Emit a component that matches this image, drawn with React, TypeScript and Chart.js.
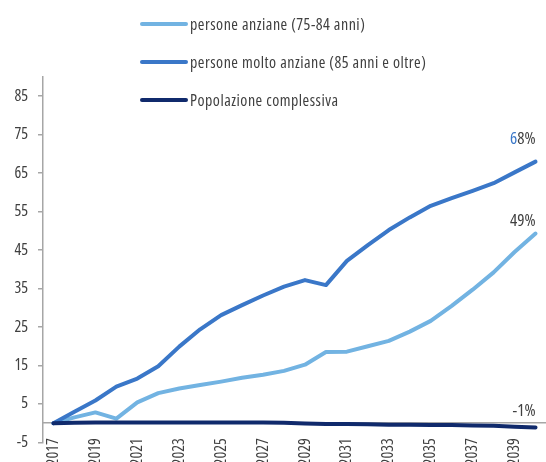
import React, { useEffect, useRef } from 'react';
import { Chart, registerables } from 'chart.js';

Chart.register(...registerables);

// ---- data ----
const years = [
  '2017', '2018', '2019', '2020', '2021', '2022', '2023', '2024', '2025', '2026', '2027', '2028',
  '2029', '2030', '2031', '2032', '2033', '2034', '2035', '2036', '2037', '2038', '2039', '2040',
];
const shownYearLabels = ['2017', '2019', '2021', '2023', '2025', '2027', '2029', '2031', '2033', '2035', '2037', '2039'];
const yTickValues = [-5, 5, 15, 25, 35, 45, 55, 65, 75, 85];

const seriesNames = [
  'persone anziane (75-84 anni)',
  'persone molto anziane (85 anni e oltre)',
  'Popolazione complessiva',
];
const anziani = [0, 1.5, 2.8, 1.2, 5.4, 7.8, 9.0, 9.9, 10.8, 11.8, 12.6, 13.6, 15.2, 18.5, 18.6, 20.0, 21.4, 23.8, 26.6, 30.5, 34.7, 39.2, 44.5, 49.3];
const moltoAnziani = [0, 3.0, 5.9, 9.5, 11.6, 14.8, 19.9, 24.4, 28.1, 30.7, 33.2, 35.5, 37.2, 35.9, 42.2, 46.3, 50.2, 53.5, 56.5, 58.5, 60.4, 62.4, 65.2, 68.0];
const popolazione = [0, 0.1, 0.2, 0.2, 0.2, 0.2, 0.2, 0.2, 0.2, 0.2, 0.2, 0.1, -0.1, -0.2, -0.2, -0.3, -0.4, -0.4, -0.5, -0.5, -0.6, -0.7, -0.9, -1.1];
const endLabels = ['49%', '68%', '-1%'];

// ---- styles ----
const FONT = "'Open Sans', sans-serif";
const STRETCH = 'condensed';
const COLORS = ['#72B3E2', '#3A77C8', '#102A6C'];
const TEXT = '#404040';
const AXIS = '#A6A6A6';
const endLabelHighlight = [0, 1, 0];
const endLabelOffsets = [-12, -22, -16];

const endLabelPlugin = {
  id: 'endLabels',
  afterDatasetsDraw(chart: any) {
    const ctx = chart.ctx;
    ctx.save();
    ctx.font = `${STRETCH} 17px ${FONT}`;
    ctx.textBaseline = 'middle';
    ctx.textAlign = 'left';
    chart.data.datasets.forEach((ds: any, i: number) => {
      const meta = chart.getDatasetMeta(i);
      const pt = meta.data[meta.data.length - 1];
      if (!pt) return;
      const txt = endLabels[i];
      const n = endLabelHighlight[i];
      const parts = [
        { t: txt.slice(0, n), c: COLORS[i] },
        { t: txt.slice(n), c: TEXT },
      ];
      const total = parts.reduce((s, p) => s + ctx.measureText(p.t).width, 0);
      let x = pt.x - total;
      const y = pt.y + endLabelOffsets[i];
      parts.forEach((p) => {
        ctx.fillStyle = p.c;
        ctx.fillText(p.t, x, y);
        x += ctx.measureText(p.t).width;
      });
    });
    ctx.restore();
  },
};

export default function App() {
  const ref = useRef<HTMLCanvasElement | null>(null);

  useEffect(() => {
    if (!ref.current) return;
    const values = [anziani, moltoAnziani, popolazione];
    const tickFont = { family: FONT, size: 16, weight: STRETCH };
    const chart = new Chart(ref.current, {
      type: 'line',
      data: {
        labels: years,
        datasets: seriesNames.map((name, i) => ({
          label: name,
          data: values[i],
          borderColor: COLORS[i],
          backgroundColor: COLORS[i],
          borderWidth: 4,
          borderCapStyle: 'round',
          borderJoinStyle: 'round',
          pointRadius: 0,
          tension: 0,
          fill: false,
          order: 2 - i,
        })),
      },
      options: {
        responsive: false,
        animation: false,
        layout: { padding: { top: 77, left: 0, right: 0, bottom: 0 } },
        plugins: {
          legend: { display: false },
          tooltip: { enabled: false },
        },
        scales: {
          x: {
            type: 'category',
            position: { y: 0 },
            offset: true,
            grid: { display: false },
            border: { display: true, color: AXIS, width: 1.5 },
            ticks: {
              autoSkip: false,
              maxRotation: 90,
              minRotation: 90,
              padding: 7,
              color: TEXT,
              font: tickFont,
              callback: (_v: any, index: number) =>
                shownYearLabels.includes(years[index]) ? years[index] : '',
            },
            afterFit: (s: any) => {
              s.height = 18;
              s.paddingLeft = 0;
              s.paddingRight = 0;
            },
          },
          y: {
            min: -5,
            max: 90,
            afterBuildTicks: (s: any) => {
              s.ticks = yTickValues.map((v) => ({ value: v }));
            },
            grid: {
              drawOnChartArea: false,
              color: AXIS,
              lineWidth: 1.5,
              tickLength: 5,
            },
            border: { display: true, color: AXIS, width: 1.5 },
            ticks: {
              padding: 10,
              color: TEXT,
              font: tickFont,
            },
            afterFit: (s: any) => {
              s.width = 43;
            },
          },
        },
      },
      plugins: [endLabelPlugin],
    } as any);
    return () => chart.destroy();
  }, []);

  const legendTops = [24, 62, 100];

  return (
    <div style={{ position: 'fixed', left: 0, top: 0, width: 546, height: 462, background: '#fff' }}>
      <canvas ref={ref} width={546} height={462} style={{ position: 'absolute', left: 0, top: 0 }} />
      {seriesNames.map((name, i) => (
        <div
          key={name}
          style={{
            position: 'absolute',
            left: 140,
            top: legendTops[i] - 10,
            height: 20,
            display: 'flex',
            alignItems: 'center',
            whiteSpace: 'nowrap',
          }}
        >
          <div style={{ width: 48, height: 4, borderRadius: 2, background: COLORS[i], marginRight: 2 }} />
          <span
            style={{
              fontFamily: FONT,
              fontStretch: '75%',
              fontSize: 16,
              letterSpacing: '0.5px',
              color: TEXT,
            }}
          >
            {name}
          </span>
        </div>
      ))}
    </div>
  );
}
